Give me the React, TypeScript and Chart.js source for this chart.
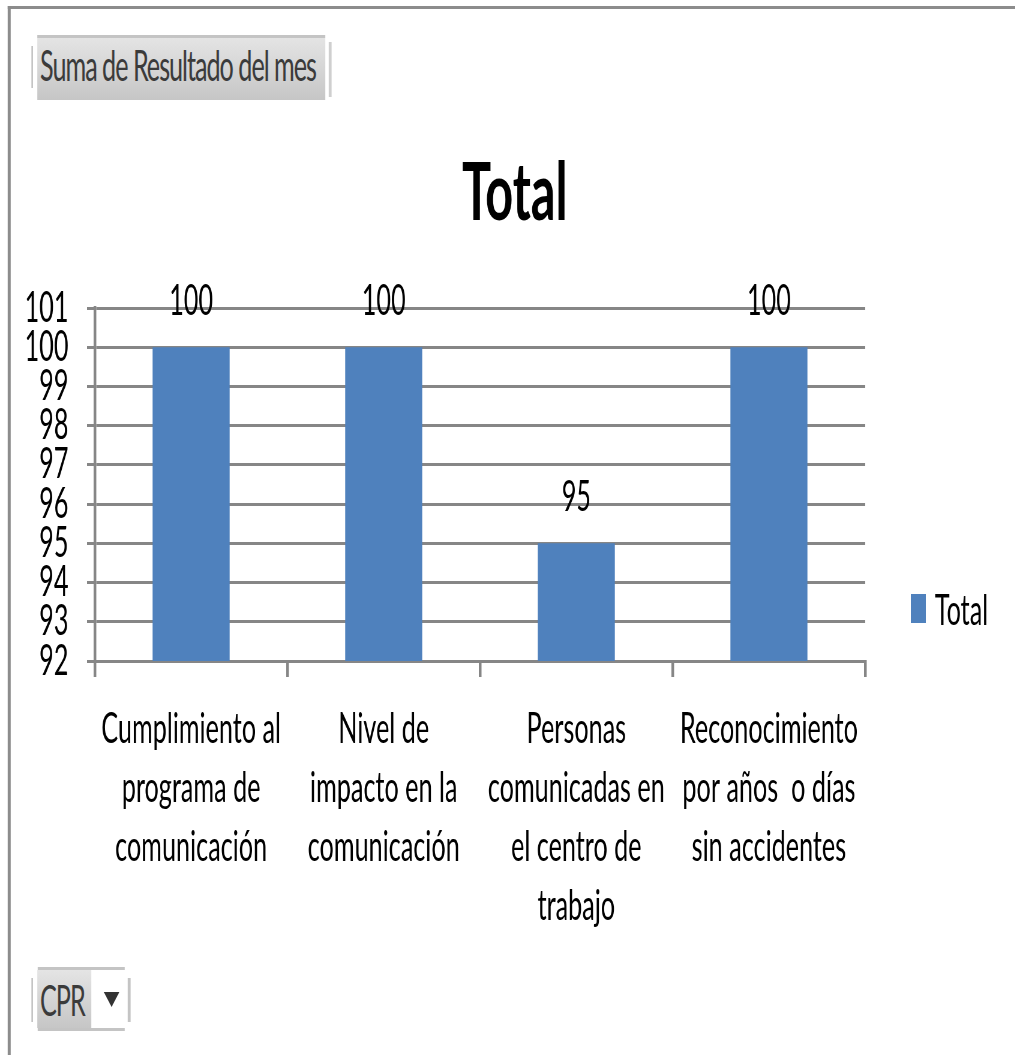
import { useEffect, useRef } from 'react';
import { Chart, registerables } from 'chart.js';

Chart.register(...registerables);

// ---- data ----
const categories: string[][] = [
  ['Cumplimiento al', 'programa de', 'comunicación'],
  ['Nivel de', 'impacto en la', 'comunicación'],
  ['Personas', 'comunicadas en', 'el centro de', 'trabajo'],
  ['Reconocimiento', 'por años  o días', 'sin accidentes'],
];
const seriesLabel = 'Total';
const values = [100, 100, 95, 100];
const yTicks = [92, 93, 94, 95, 96, 97, 98, 99, 100, 101];
const chartTitle = 'Total';
const valueFieldLabel = 'Suma de Resultado del mes';
const filterFieldLabel = 'CPR';

// ---- look ----
const SX = 0.6; // horizontal squeeze of the whole sheet
const W = 1692;
const H = 1055;
const FONT = 'Lato, "Open Sans", sans-serif';
const BAR = '#4F81BD';
const AXIS = '#868686';
const TEXT_SIZE = 42;

const valueLabels = {
  id: 'valueLabels',
  afterDatasetsDraw(chart: any) {
    const ctx = chart.ctx;
    const meta = chart.getDatasetMeta(0);
    const data = chart.data.datasets[0].data;
    ctx.save();
    ctx.font = `${TEXT_SIZE}px ${FONT}`;
    ctx.fillStyle = '#000';
    ctx.textAlign = 'center';
    ctx.textBaseline = 'alphabetic';
    meta.data.forEach((bar: any, i: number) => {
      ctx.fillText(String(data[i]), bar.x, bar.y - 32);
    });
    ctx.restore();
  },
};

const sideLegend = {
  id: 'sideLegend',
  afterDraw(chart: any) {
    const { ctx, chartArea } = chart;
    const ds = chart.data.datasets[0];
    const x = chartArea.right + 76;
    const bottom = chartArea.bottom - 38;
    ctx.save();
    ctx.fillStyle = ds.backgroundColor;
    ctx.fillRect(x, bottom - 29, 25, 29);
    ctx.font = `${TEXT_SIZE}px ${FONT}`;
    ctx.fillStyle = '#000';
    ctx.textAlign = 'left';
    ctx.textBaseline = 'alphabetic';
    ctx.fillText(ds.label, x + 40, bottom + 2);
    ctx.restore();
  },
};

function BarChart() {
  const ref = useRef<HTMLCanvasElement>(null);

  useEffect(() => {
    if (!ref.current) return;
    const chart = new Chart(ref.current, {
      type: 'bar',
      data: {
        labels: categories,
        datasets: [
          {
            label: seriesLabel,
            data: values,
            backgroundColor: BAR,
            barPercentage: 0.4,
            categoryPercentage: 1,
          },
        ],
      },
      options: {
        responsive: false,
        animation: false,
        devicePixelRatio: 1,
        layout: { padding: { left: 24, top: 0, right: 0, bottom: 0 } },
        plugins: {
          legend: { display: false },
          tooltip: { enabled: false },
          title: {
            display: true,
            text: chartTitle,
            color: '#000',
            font: { family: FONT, size: 81, weight: 'bold', lineHeight: 1.2 },
            padding: { top: 145, bottom: 65.8 },
          },
        },
        scales: {
          x: {
            grid: {
              display: true,
              drawOnChartArea: false,
              drawTicks: true,
              tickLength: 16,
              lineWidth: 4.5,
              color: AXIS,
              offset: true,
            },
            border: { display: true, width: 3, color: AXIS },
            ticks: {
              color: '#000',
              font: { family: FONT, size: TEXT_SIZE, lineHeight: 1.405 },
              padding: 22.5,
              maxRotation: 0,
              minRotation: 0,
              autoSkip: false,
            },
            afterFit: (s: any) => {
              s.height = H - 661;
            },
          },
          y: {
            min: yTicks[0],
            max: yTicks[yTicks.length - 1],
            grid: { color: AXIS, lineWidth: 3, tickLength: 13 },
            border: { display: true, width: 4.5, color: AXIS },
            ticks: {
              color: '#000',
              font: { family: FONT, size: TEXT_SIZE },
              padding: 31,
              autoSkip: false,
            },
            afterBuildTicks: (s: any) => {
              s.ticks = yTicks.map((v) => ({ value: v }));
            },
            afterFit: (s: any) => {
              s.width = 158 - 24;
            },
          },
          y2: {
            type: 'linear',
            position: 'right',
            display: true,
            grid: { display: false },
            border: { display: false },
            ticks: { display: false },
            afterFit: (s: any) => {
              s.width = 250;
            },
          },
        },
      },
      plugins: [valueLabels, sideLegend],
    } as any);
    return () => chart.destroy();
  }, []);

  return (
    <canvas
      ref={ref}
      width={W}
      height={H}
      style={{ position: 'absolute', left: 0, top: 0, width: W, height: H }}
    />
  );
}

const box = (l: number, t: number, w: number, h: number, bg: string) => (
  <div style={{ position: 'absolute', left: l, top: t, width: w, height: h, background: bg }} />
);

const GRAD = 'linear-gradient(#e4e4e4, #c6c6c6)';
const EDGE = '#c4c4c4';

const buttonText = (left: number, top: number, text: string) => (
  <div
    style={{
      position: 'absolute',
      left,
      top,
      fontFamily: FONT,
      fontSize: TEXT_SIZE,
      lineHeight: `${TEXT_SIZE}px`,
      letterSpacing: '-1.7px',
      color: '#3b3b3b',
      whiteSpace: 'nowrap',
    }}
  >
    {text}
  </div>
);

export default function App() {
  return (
    <div
      style={{
        position: 'absolute',
        left: 0,
        top: 0,
        width: W,
        height: H,
        overflow: 'hidden',
        background: '#fff',
        transform: `scaleX(${SX})`,
        transformOrigin: '0 0',
      }}
    >
      <BarChart />
      {/* sheet frame */}
      {box(13.3, 6, W, 3, '#8c8c8c')}
      {box(13.3, 6, 5, H, '#8c8c8c')}

      {/* value field button */}
      {box(61.7, 35, 480, 3, EDGE)}
      {box(51.7, 46, 3.3, 42, EDGE)}
      {box(61.7, 38, 480, 62, GRAD)}
      {box(548, 42, 5, 55, '#cfcfcf')}
      {buttonText(66.7, 43.5, valueFieldLabel)}

      {/* report filter button */}
      {box(63.3, 967, 145, 3, EDGE)}
      {box(63.3, 1028, 145, 3, EDGE)}
      {box(51.7, 978, 3.3, 44, EDGE)}
      {box(213.3, 978, 5, 44, EDGE)}
      {box(61.7, 970, 90, 58, GRAD)}
      {buttonText(66.7, 978.5, filterFieldLabel)}
      <div
        style={{
          position: 'absolute',
          left: 173.3,
          top: 992,
          width: 0,
          height: 0,
          borderLeft: '13.3px solid transparent',
          borderRight: '13.3px solid transparent',
          borderTop: '15px solid #333',
        }}
      />
    </div>
  );
}
